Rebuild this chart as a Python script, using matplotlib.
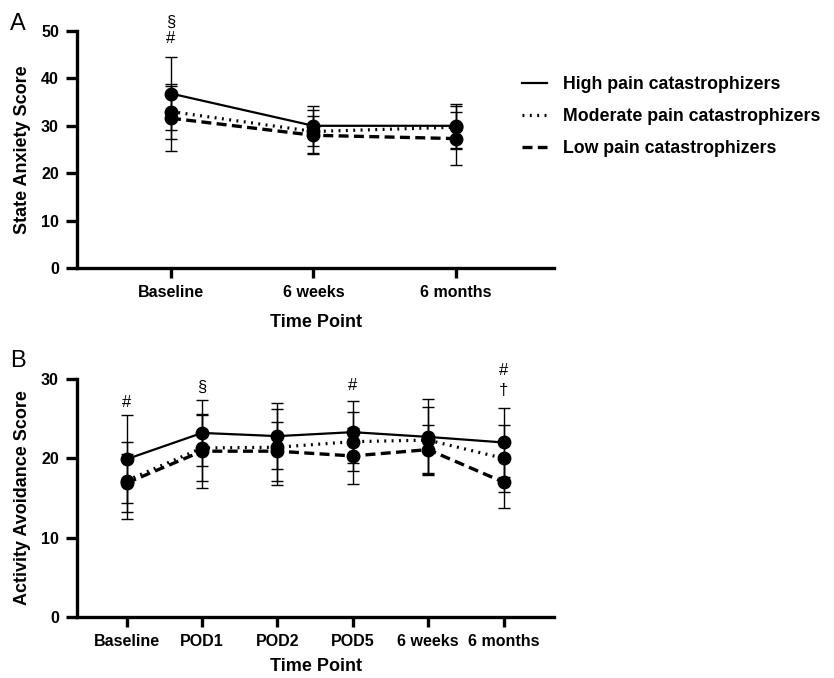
import numpy as np
import matplotlib
matplotlib.use('Agg')
from matplotlib import pyplot as plt

plt.rcParams['font.family'] = ['Liberation Sans', 'DejaVu Sans']

# Panel A: state anxiety
labels_a = ['Baseline', '6 weeks', '6 months']
high_a = [36.8, 30.0, 30.0]
high_a_sd = [7.7, 4.2, 4.6]
mod_a = [33.0, 28.8, 29.7]
mod_a_sd = [5.8, 4.5, 4.5]
low_a = [31.6, 28.0, 27.3]
low_a_sd = [6.9, 4.0, 5.6]
notes_a = [(0, 48.4, '#'), (0, 51.8, '§')]

# Panel B: activity avoidance
labels_b = ['Baseline', 'POD1', 'POD2', 'POD5', '6 weeks', '6 months']
high_b = [19.9, 23.2, 22.8, 23.3, 22.7, 22.0]
high_b_sd = [5.5, 4.2, 4.2, 3.9, 4.8, 4.3]
mod_b = [17.2, 21.3, 21.4, 22.1, 22.3, 20.0]
mod_b_sd = [4.8, 4.2, 4.8, 3.7, 4.2, 4.2]
low_b = [16.9, 20.9, 20.9, 20.3, 21.1, 17.0]
low_b_sd = [3.7, 4.7, 3.7, 3.5, 3.1, 3.3]
notes_b = [(0, 27.1, '#'), (1, 29.0, '§'), (3, 29.2, '#'), (5, 31.1, '#'), (5, 28.6, '†')]

group_names = ['High pain catastrophizers', 'Moderate pain catastrophizers', 'Low pain catastrophizers']
styles = ['-', (0, (0.6, 1.7)), (0, (3.0, 1.6))]
widths = [1.6, 2.3, 2.4]


def draw_panel(ax, labels, series, sds, notes, xmax, ymax, ystep, ylabel, xpad):
    x = np.arange(len(labels))
    for i, (vals, sd) in enumerate(zip(series, sds)):
        ax.errorbar(x, vals, yerr=sd, fmt='none', ecolor='black',
                    elinewidth=1.0, capsize=4.5, capthick=1.0, zorder=2)
        ax.plot(x, vals, linestyle=styles[i], color='black', lw=widths[i],
                marker='o', ms=9, markerfacecolor='black', zorder=3)
    for xi, yi, s in notes:
        ax.text(xi, yi, s, ha='center', va='center', fontsize=12, clip_on=False)

    ax.set_xlim(-0.66, xmax)
    ax.set_ylim(0, ymax)
    ax.set_yticks(np.arange(0, ymax + 1, ystep))
    ax.set_xticks(x)
    ax.set_xticklabels(labels)
    for sp in ['top', 'right']:
        ax.spines[sp].set_visible(False)
    for sp in ['left', 'bottom']:
        ax.spines[sp].set_linewidth(2.4)
    ax.tick_params(axis='y', length=8, width=2.4, pad=5, labelsize=11.5)
    ax.tick_params(axis='x', length=7, width=2.4, pad=5, labelsize=11.5)
    for t in ax.get_xticklabels() + ax.get_yticklabels():
        t.set_fontweight('bold')
    ax.set_xlabel('Time Point', fontsize=13, fontweight='bold', labelpad=xpad)
    ax.set_ylabel(ylabel, fontsize=13, fontweight='bold', labelpad=7)


fig = plt.figure(figsize=[8.34, 6.78], dpi=100)

ax_a = fig.add_axes([0.0923, 0.6047, 0.572, 0.3496])
draw_panel(ax_a, labels_a, [high_a, mod_a, low_a], [high_a_sd, mod_a_sd, low_a_sd],
           notes_a, 2.69, 50, 10, 'State Anxiety Score', 10)

ax_b = fig.add_axes([0.0923, 0.09, 0.572, 0.351])
draw_panel(ax_b, labels_b, [high_b, mod_b, low_b], [high_b_sd, mod_b_sd, low_b_sd],
           notes_b, 5.67, 30, 10, 'Activity Avoidance Score', 7)

# legend handles without markers
leg_lines = [plt.Line2D([], [], color='black', linestyle=styles[i], lw=widths[i]) for i in range(3)]
fig.legend(leg_lines, group_names, loc='upper left', bbox_to_anchor=(0.626, 0.888),
           frameon=False, prop={'weight': 'bold', 'size': 12.8},
           handlelength=1.4, handletextpad=0.9, labelspacing=0.85,
           borderpad=0, borderaxespad=0)

fig.text(0.012, 0.965, 'A', fontsize=17, va='center')
fig.text(0.012, 0.467, 'B', fontsize=17, va='center')

plt.savefig('out.png', dpi=100)
